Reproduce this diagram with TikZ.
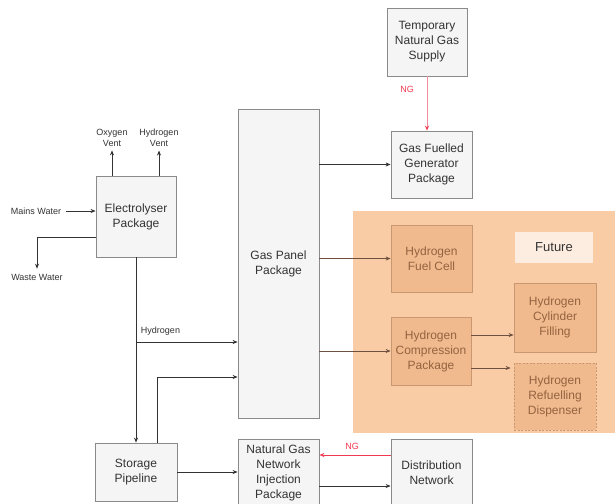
\documentclass[tikz,border=0pt]{standalone}
\usepackage{fontspec}
\setmainfont{Liberation Sans}
\usetikzlibrary{arrows.meta}
\definecolor{boxfill}{HTML}{F5F5F5}
\definecolor{boxline}{HTML}{8A8A8A}
\definecolor{txt}{HTML}{333333}
\definecolor{orangebg}{HTML}{F9CCA5}
\definecolor{ofill}{HTML}{F1BA8E}
\definecolor{oline}{HTML}{C99870}
\definecolor{otxt}{HTML}{93633F}
\definecolor{futfill}{HTML}{FDEDE0}
\definecolor{ngpink}{HTML}{F08A9C}
\definecolor{ngred}{HTML}{F03A52}
\definecolor{oarrow}{HTML}{6E5040}
\tikzset{
  box/.style={draw=boxline, fill=boxfill, line width=0.8pt, text=txt, align=center,
    font=\fontsize{12}{15}\selectfont, inner sep=0pt},
  obox/.style={draw=oline, fill=ofill, line width=0.8pt, text=otxt, align=center,
    font=\fontsize{12}{15}\selectfont, inner sep=0pt},
  lbl/.style={text=txt, align=center, font=\fontsize{9}{11}\selectfont, inner sep=1pt},
  conn/.style={draw=txt, line width=0.7pt, -{Stealth[length=5pt,width=4pt]}},
  oconn/.style={draw=oarrow, line width=0.7pt, -{Stealth[length=5pt,width=4pt]}},
}
\begin{document}
\begin{tikzpicture}[x=1pt,y=-1pt]
\useasboundingbox (0,0) rectangle (615,503);
\clip (0,0) rectangle (615,503);
\fill[white] (0,0) rectangle (615,503);
% future region
\fill[orangebg] (353,211) rectangle (615,433);

% boxes
\node[box, minimum width=80pt, minimum height=68pt] (tng) at (427,42) {Temporary\\Natural Gas\\Supply};
\node[box, minimum width=81pt, minimum height=67pt] (gfg) at (431.5,164.5) {Gas Fuelled\\Generator\\Package};
\node[box, minimum width=80pt, minimum height=81pt] (elec) at (136,216.5) {Electrolyser\\Package};
\node[box, minimum width=81pt, minimum height=309pt] (gp) at (278.5,263.5) {Gas Panel\\Package};
\node[box, minimum width=82pt, minimum height=58pt] (stor) at (136,472) {Storage\\Pipeline};
\node[box, minimum width=81pt, minimum height=68pt] (inj) at (278.5,473) {Natural Gas\\Network\\Injection\\Package};
\node[box, minimum width=81pt, minimum height=68pt] (dist) at (431.5,473) {Distribution\\Network};

\node[obox, minimum width=81pt, minimum height=67pt] (fc) at (431.5,258.5) {Hydrogen\\Fuel Cell};
\node[obox, minimum width=80pt, minimum height=68pt] (comp) at (431,351) {Hydrogen\\Compression\\Package};
\node[obox, minimum width=82pt, minimum height=69pt] (cyl) at (555,317.5) {Hydrogen\\Cylinder\\Filling};
\node[obox, dash pattern=on 2pt off 1.5pt, minimum width=82pt, minimum height=67pt] (disp) at (555,396.5) {Hydrogen\\Refuelling\\Dispenser};
\node[fill=futfill, text=txt, inner sep=0pt, minimum width=78pt, minimum height=31pt,
  font=\fontsize{13}{15}\selectfont] (fut) at (554,247.5) {Future};

% labels
\node[lbl] (ov) at (112,137.5) {Oxygen\\Vent};
\node[lbl] (hv) at (159,137.5) {Hydrogen\\Vent};
\node[lbl] (mw) at (36,211) {Mains Water};
\node[lbl] (ww) at (37,277) {Waste Water};
\node[lbl] (h2lbl) at (160.5,331) {Hydrogen};
\node[lbl, text=ngred] (ng1) at (407,89) {NG};
\node[lbl, text=ngred] (ng2) at (352,446) {NG};

% connectors
\draw[line width=0.9pt, draw=ngpink, -{Stealth[length=5pt,width=4pt,color=ngred]}] (tng.south) -- (tng.south |- gfg.north);
\draw[conn] (gfg.west -| gp.east) -- (gfg.west);
\draw[oconn] (fc.west -| gp.east) -- (fc.west);
\draw[oconn] (comp.west -| gp.east) -- (comp.west);
\draw[oconn] ([yshift=16pt]comp.east) -- ([yshift=16pt]comp.east -| cyl.west);
\draw[oconn, shorten >=3pt] ([yshift=-17pt]comp.east) -- ([yshift=-17pt]comp.east -| disp.west);

\draw[conn, shorten >=3pt] (elec.north -| ov) -- (ov.south);
\draw[conn, shorten >=3pt] (elec.north -| hv) -- (hv.south);
\draw[conn, shorten <=4pt] (mw.east) -- (mw.east -| elec.west);
\draw[conn] ([yshift=-20.5pt]elec.west) -| ([yshift=4pt]ww.north);
\draw[conn] (elec.south) -- (stor.north);
\coordinate (h1) at (136,342);
\draw[conn] (h1) -- (h1 -| gp.west);
\coordinate (s2) at (157,377);
\draw[conn] (s2 |- stor.north) -- (s2) -- (s2 -| gp.west);
\draw[conn] (stor.east) -- (stor.east -| inj.west);
\draw[line width=0.9pt, draw=ngred, -{Stealth[length=5pt,width=4pt]}] ([yshift=18pt]dist.west) -- ([yshift=18pt]dist.west -| inj.east);
\draw[conn] ([yshift=-13pt]inj.east) -- ([yshift=-13pt]inj.east -| dist.west);
\end{tikzpicture}
\end{document}
